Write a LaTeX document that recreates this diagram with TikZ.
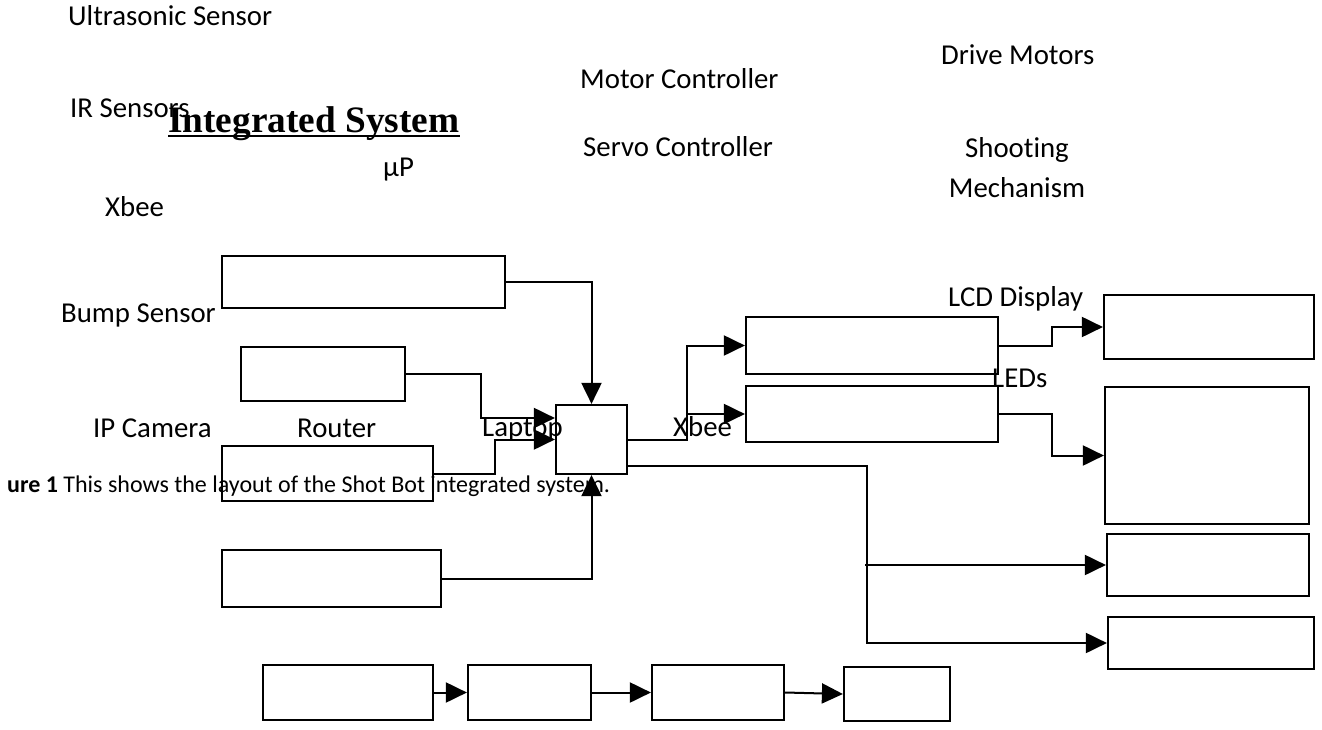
\documentclass[tikz,border=0pt]{standalone}
\usepackage{fontspec}
\setmainfont{Carlito}[Ligatures=NoCommon]
\newfontfamily\titlefont{Liberation Serif}
\usetikzlibrary{arrows.meta}
\tikzset{
  blk/.style={draw, line width=2.2pt, rectangle, inner sep=0pt, minimum width=#1},
  lbl/.style={anchor=base west, inner sep=0pt, font=\fontsize{28.8}{34}\selectfont},
  conn/.style={line width=2pt, -{Triangle[length=21pt,width=20pt]}},
}
\begin{document}
\begin{tikzpicture}[x=1pt,y=-1pt]
\useasboundingbox (0,0) rectangle (1322,730);
% boxes
\node[blk=283pt, minimum height=52pt] (A) at (363.5,282) {};
\node[blk=164pt, minimum height=54pt] (B) at (323,374) {};
\node[blk=211pt, minimum height=55pt] (C) at (327.5,473.5) {};
\node[blk=219pt, minimum height=57pt] (D) at (331.5,578.5) {};
\node[blk=71pt, minimum height=69pt] (P) at (591.5,439.5) {};
\node[blk=252pt, minimum height=57pt] (E) at (872,345.5) {};
\node[blk=252pt, minimum height=56pt] (F) at (872,414) {};
\node[blk=210pt, minimum height=64pt] (G) at (1209,327) {};
\node[blk=204pt, minimum height=137pt] (H) at (1207,455.5) {};
\node[blk=202pt, minimum height=62pt] (I) at (1208,565) {};
\node[blk=206pt, minimum height=52pt] (J) at (1211,643) {};
\node[blk=170pt, minimum height=55pt] (K1) at (348,692.5) {};
\node[blk=123pt, minimum height=55pt] (K2) at (529.5,692.5) {};
\node[blk=132pt, minimum height=55pt] (K3) at (718,692.5) {};
\node[blk=106pt, minimum height=54pt] (K4) at (897,694) {};
% labels
\node[lbl] (ultra) at (68,26) {Ultrasonic Sensor};
\node[lbl] (ir) at (70,118) {IR Sensors};
\node[lbl] (xb1) at (105,216) {Xbee};
\node[lbl] (mup) at (383,177) {μP};
\node[lbl] (motc) at (580,89) {Motor Controller};
\node[lbl] (serc) at (583,157) {Servo Controller};
\node[lbl] (drive) at (941,65) {Drive Motors};
\node[lbl, anchor=base] (shoot1) at (1017,158) {Shooting};
\node[lbl, anchor=base] (shoot2) at (1017,198) {Mechanism};
\node[lbl] (bump) at (61,322) {Bump Sensor};
\node[lbl] (ipcam) at (93,437) {IP Camera};
\node[lbl] (router) at (297,437) {Router};
\node[lbl] (laptop) at (482,436) {Laptop};
\node[lbl] (xb2) at (673,436) {Xbee};
\node[lbl] (lcd) at (948,306) {LCD Display};
\node[lbl] (leds) at (992,387) {LEDs};
\node[anchor=base west, inner sep=0pt, font=\fontsize{24}{28}\selectfont] (cap) at (7,492) {\textbf{ure 1} This shows the layout of the Shot Bot integrated system.};
\node[anchor=base west, inner sep=0pt, font=\titlefont\bfseries\fontsize{37.3}{42}\selectfont] (title) at (168,133) {Integrated System};
\draw[line width=1.6pt] ([yshift=-3pt]title.base west) -- ([yshift=-3pt]title.base east);
% connectors into uP
\draw[conn] (A.east) -| (P.north);
\draw[conn] (B.east) -- ++(75,0) |- ([yshift=21.5pt]P.west);
\draw[conn] (C.east) -- ++(61,0) |- (P.west);
\draw[conn] (D.east) -| (P.south);
% uP to controllers
\coordinate (br) at (687,439.5);
\draw[conn] (P.east) -- (br) |- (E.west);
\draw[conn] (br |- F.west) -- (F.west);
\draw[conn] (E.east) -- ++(53,0) |- (G.west);
\draw[conn] (F.east) -- ++(53,0) |- (H.west);
\coordinate (vj) at (867,466);
\draw[conn] ([yshift=-26.5pt]P.east) -- (vj) |- (J.west);
\draw[conn] ([xshift=-2pt]vj |- I.west) -- (I.west);
% bottom chain
\draw[conn] (K1.east) -- (K2.west);
\draw[conn] (K2.east) -- (K3.west);
\draw[conn] (K3.east) -- (K4.west);
\end{tikzpicture}
\end{document}
